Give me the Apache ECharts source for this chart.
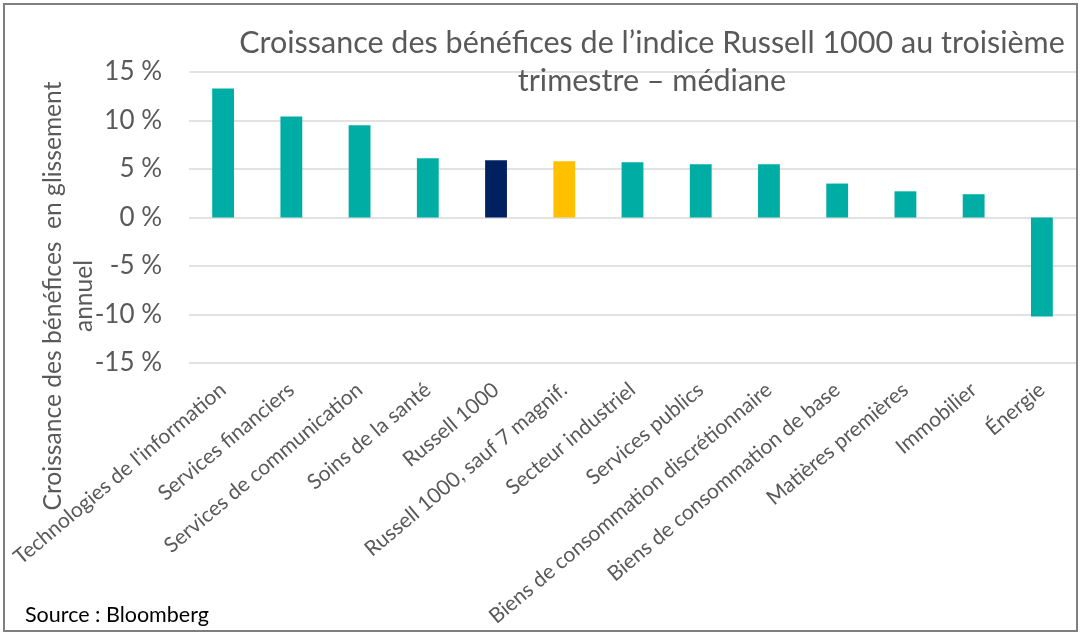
<!DOCTYPE html>
<html>
<head>
<meta charset="utf-8">
<script src="https://cdn.jsdelivr.net/npm/echarts@6/dist/echarts.min.js"></script>
<style>
html,body{margin:0;padding:0;background:#fff;}
#c{width:1083px;height:638px;}
</style>
</head>
<body>
<div id="c"></div>
<script>
const categories = [
  "Technologies de l'information",
  "Services financiers",
  "Services de communication",
  "Soins de la santé",
  "Russell 1000",
  "Russell 1000, sauf 7 magnif.",
  "Secteur industriel",
  "Services publics",
  "Biens de consommation discrétionnaire",
  "Biens de consommation de base",
  "Matières premières",
  "Immobilier",
  "Énergie"
];
const growthValues = [13.3, 10.4, 9.5, 6.1, 5.9, 5.8, 5.7, 5.5, 5.5, 3.5, 2.7, 2.4, -10.2];
const yTicks = [-15, -10, -5, 0, 5, 10, 15];
const titleText = "Croissance des bénéfices de l\u2019indice Russell 1000 au troisième\ntrimestre \u2013 médiane";
const yAxisTitleLine1 = "Croissance des bénéfices  en glissement";
const yAxisTitleLine2 = "annuel";
const sourceText = "Source : Bloomberg";

const TEAL = '#00ADA5', NAVY = '#002060', GOLD = '#FFC000';
const colorFor = (name) => name === 'Russell 1000' ? NAVY : (name === 'Russell 1000, sauf 7 magnif.' ? GOLD : TEAL);

const chart = echarts.init(document.getElementById('c'), null, {renderer: 'canvas'});
const FONT = 'Lato';
chart.setOption({
  animation: false,
  backgroundColor: '#fff',
  title: {
    text: titleText,
    left: 647, top: 19, textAlign: 'center',
    textStyle: {fontFamily: FONT, fontSize: 30.5, fontWeight: 'normal', color: '#595959', lineHeight: 38}
  },
  grid: {left: 189, right: 7, top: 72, bottom: 275, containLabel: false, outerBoundsMode: 'none'},
  xAxis: {
    type: 'category',
    data: categories,
    axisLine: {show: false},
    axisTick: {show: false},
    axisLabel: {
      interval: 0, rotate: 40, margin: 24,
      fontFamily: FONT, fontSize: 21, color: '#595959'
    }
  },
  yAxis: {
    type: 'value',
    min: yTicks[0], max: yTicks[yTicks.length - 1], interval: 5,
    axisLine: {show: false},
    axisTick: {show: false},
    splitLine: {lineStyle: {color: '#D9D9D9', width: 1.5}},
    axisLabel: {
      margin: 27,
      fontFamily: FONT, fontSize: 26, color: '#595959',
      formatter: (v) => v + ' %'
    }
  },
  series: [{
    type: 'bar',
    data: growthValues.map((v, i) => ({value: v, itemStyle: {color: colorFor(categories[i])}})),
    barWidth: '32%'
  }],
  graphic: [
    {type: 'rect', shape: {x: 4, y: 4, width: 1073, height: 627},
     style: {fill: 'none', stroke: '#7F7F7F', lineWidth: 2}, z: 100},
    {type: 'text', x: 53, y: 296, rotation: Math.PI / 2,
     style: {text: yAxisTitleLine1, font: '24.6px Lato', fill: '#595959', textAlign: 'center', textVerticalAlign: 'middle'}},
    {type: 'text', x: 84, y: 296, rotation: Math.PI / 2,
     style: {text: yAxisTitleLine2, font: '24.6px Lato', fill: '#595959', textAlign: 'center', textVerticalAlign: 'middle'}},
    {type: 'text', x: 25, y: 615,
     style: {text: sourceText, font: '21.5px Lato', fill: '#000', textAlign: 'left', textVerticalAlign: 'middle'}}
  ]
});
</script>
</body>
</html>
